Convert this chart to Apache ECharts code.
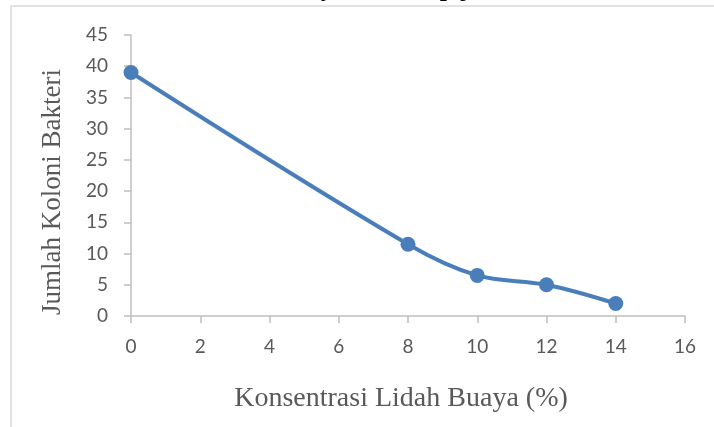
<!DOCTYPE html>
<html>
<head>
<meta charset="utf-8">
<script src="https://cdn.jsdelivr.net/npm/echarts@6/dist/echarts.min.js"></script>
<style>
  html, body { margin: 0; padding: 0; background: #ffffff; }
  #chart { width: 714px; height: 427px; }
</style>
</head>
<body>
<div id="chart"></div>
<script>
// Concentration of aloe vera (%) and bacterial colony counts
const konsentrasi = [0, 8, 10, 12, 14];
const jumlahKoloni = [39, 11.5, 6.5, 5, 2];
const xTicks = [0, 2, 4, 6, 8, 10, 12, 14, 16];
const yTicks = [0, 5, 10, 15, 20, 25, 30, 35, 40, 45];

const judul = 'Konsentrasi Lidah Buaya terhadap jumlah koloni bakteri';
const judulX = 'Konsentrasi Lidah Buaya (%)';
const judulY = 'Jumlah Koloni Bakteri';

const chart = echarts.init(document.getElementById('chart'), null, { renderer: 'canvas' });

const axisGray = '#bfbfbf';
const labelGray = '#595959';
const lineBlue = '#4a7ebb';

chart.setOption({
  animation: false,
  backgroundColor: '#ffffff',
  grid: { left: 131, right: 29, top: 35, bottom: 111, containLabel: false },
  xAxis: {
    type: 'value',
    min: xTicks[0],
    max: xTicks[xTicks.length - 1],
    interval: 2,
    axisLine: { show: true, lineStyle: { color: axisGray, width: 1.5 } },
    axisTick: { show: true, inside: false, length: 7, lineStyle: { color: axisGray, width: 1.5 } },
    axisLabel: { margin: 21, color: labelGray, fontFamily: 'Lato', fontSize: 19 },
    splitLine: { show: false }
  },
  yAxis: {
    type: 'value',
    min: yTicks[0],
    max: yTicks[yTicks.length - 1],
    interval: 5,
    axisLine: { show: true, lineStyle: { color: axisGray, width: 1.5 } },
    axisTick: { show: true, inside: false, length: 7, lineStyle: { color: axisGray, width: 1.5 } },
    axisLabel: { margin: 23, color: labelGray, fontFamily: 'Lato', fontSize: 19 },
    splitLine: { show: false }
  },
  series: [{
    type: 'line',
    data: konsentrasi.map((x, i) => [x, jumlahKoloni[i]]),
    smooth: 0.35,
    symbol: 'circle',
    symbolSize: 15,
    lineStyle: { color: lineBlue, width: 4 },
    itemStyle: { color: lineBlue },
    z: 5
  }],
  graphic: [
    {
      type: 'rect',
      shape: { x: 11, y: 6, width: 800, height: 500 },
      style: { fill: 'none', stroke: '#d9d9d9', lineWidth: 1.5 },
      silent: true
    },
    {
      type: 'text',
      x: 62, y: -11,
      style: {
        text: judul,
        font: 'bold 26px "Liberation Serif"',
        fill: '#000000',
        align: 'left', verticalAlign: 'middle',
        textAlign: 'left', textVerticalAlign: 'middle'
      },
      silent: true
    },
    {
      type: 'text',
      x: 53, y: 192,
      rotation: Math.PI / 2,
      style: {
        text: judulY,
        font: '27px "Liberation Serif"',
        fill: labelGray,
        align: 'center', verticalAlign: 'middle',
        textAlign: 'center', textVerticalAlign: 'middle'
      },
      silent: true
    },
    {
      type: 'text',
      x: 401, y: 399,
      style: {
        text: judulX,
        font: '28px "Liberation Serif"',
        fill: labelGray,
        align: 'center', verticalAlign: 'middle',
        textAlign: 'center', textVerticalAlign: 'middle'
      },
      silent: true
    }
  ]
});
</script>
</body>
</html>
